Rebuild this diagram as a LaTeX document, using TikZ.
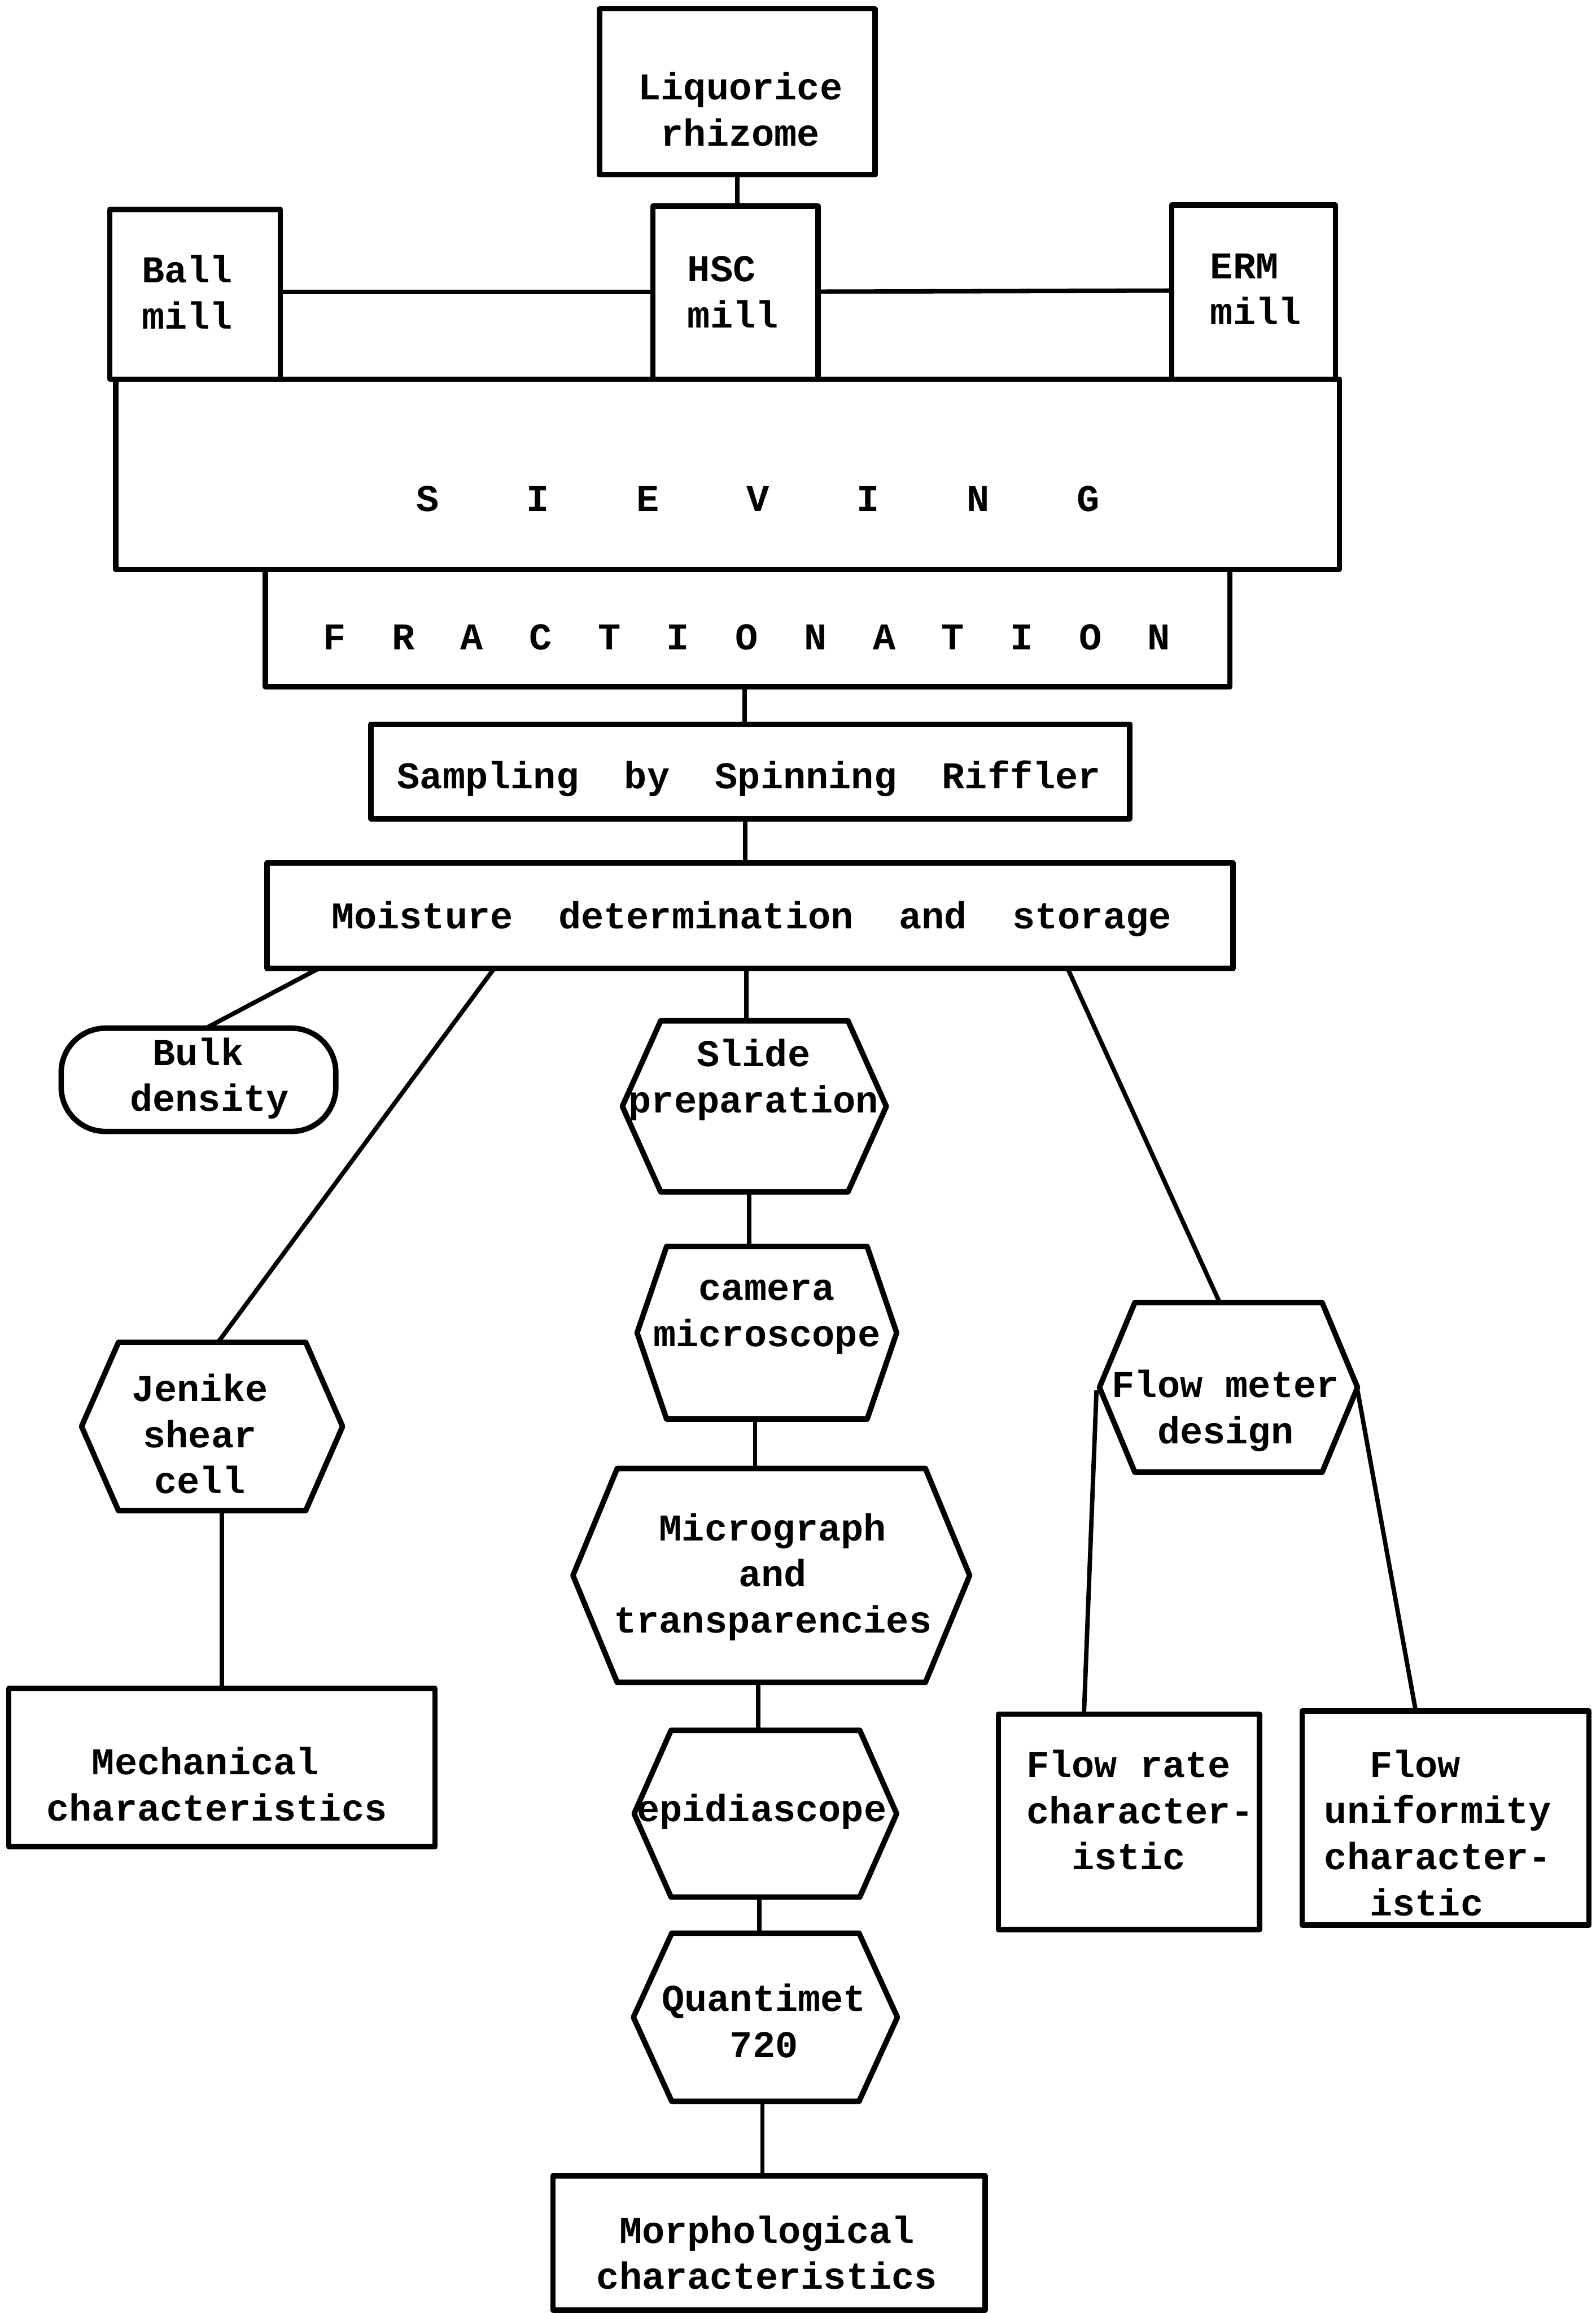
\documentclass[tikz,border=0pt]{standalone}
\usepackage{fontspec}
\setmainfont{Liberation Mono}
\usetikzlibrary{calc}
\tikzset{
  shapeline/.style={line width=2.1pt, line join=round},
  conn/.style={line width=1.7pt},
  boxst/.style={draw, shapeline, rectangle, inner sep=0pt, outer sep=0pt},
  hexst/.style={rectangle, inner sep=0pt, outer sep=0pt},
  txt/.style={font=\fontsize{14.6}{17.8}\selectfont\bfseries, align=center, inner sep=0pt}
}
\newcommand\rbox[5]{\node[boxst, minimum width={(#4-#2)*0.02cm}, minimum height={(#5-#3)*0.02cm}] (#1) at ({(#2+#4)/2},{(#3+#5)/2}) {};}
\newcommand\hexa[9]{%
  \node[hexst, minimum width={#4*0.02cm}, minimum height={#5*0.02cm}] (#1) at (#2,#3) {};
  \draw[shapeline] ($(#1.north west)+(#6,0)$) -- ($(#1.north east)+(-#6,0)$) -- (#1.east) -- ($(#1.south east)+(-#6,0)$) -- ($(#1.south west)+(#6,0)$) -- (#1.west) -- cycle;
  \node[txt] (#1-t) at (#7,#8) {#9};}
\newcommand\sv[1]{\makebox[1.494cm]{#1}}
\newcommand\fr[1]{\makebox[0.932cm]{#1}}
\begin{document}
\begin{tikzpicture}[x=0.02cm,y=-0.02cm]
\useasboundingbox (0,0) rectangle (1082,1568);
% top boxes
\rbox{liq}{406.5}{6}{593.3}{118.5}
\node[txt] (liq-t) at (502,74) {Liquorice\\rhizome};
\rbox{ball}{74.5}{142}{190}{257}
\node[txt, align=left] (ball-t) at (127,198) {Ball\\mill};
\rbox{hsc}{442.7}{139.7}{554.8}{257}
\node[txt, align=left] (hsc-t) at (497,198) {HSC\\mill};
\rbox{erm}{794.5}{139}{905.5}{257}
\node[txt, align=left] (erm-t) at (851.5,196) {ERM\\mill};
\rbox{siev}{78.4}{257}{908.2}{386}
\node[txt] (siev-t) at (514,338) {\sv{S}\sv{I}\sv{E}\sv{V}\sv{I}\sv{N}\sv{G}};
\rbox{frac}{180}{386}{834}{465.5}
\node[txt] (frac-t) at (506.4,432) {\fr{F}\fr{R}\fr{A}\fr{C}\fr{T}\fr{I}\fr{O}\fr{N}\fr{A}\fr{T}\fr{I}\fr{O}\fr{N}};
\rbox{samp}{251.5}{491}{766}{555}
\node[txt] (samp-t) at (508,528) {Sampling~~by~~Spinning~~Riffler};
\rbox{moist}{181}{585}{836}{656.6}
\node[txt] (moist-t) at (509.5,623) {Moisture~~determination~~and~~storage};
% bulk density
\node[draw, shapeline, rectangle, rounded corners=0.6cm, inner sep=0pt, outer sep=0pt,
  minimum width={186.2*0.02cm}, minimum height={70*0.02cm}] (bulk) at (134.6,732) {};
\node[txt, align=left] (bulk-t) at (142,731) {\phantom{B}Bulk\\density};
% hexagons
\hexa{slide}{511.5}{750}{179}{116}{26}{511}{732}{Slide\\preparation}
\hexa{cam}{520}{903.5}{176}{117}{20}{520}{893}{camera\\microscope}
\hexa{micro}{523}{1068}{269}{145}{30}{524}{1069}{Micrograph\\and\\transparencies}
\hexa{epi}{519}{1229.5}{178}{113}{25}{516.5}{1228}{epidiascope}
\hexa{quant}{519}{1367.5}{179}{114}{26}{518}{1370}{Quantimet\\720}
\hexa{jen}{143.8}{967}{177}{114}{25}{135.5}{972}{Jenike\\shear\\cell}
\hexa{flow}{833}{940.5}{175}{115}{24}{831}{956.5}{Flow meter\\design}
% bottom boxes
\rbox{morph}{375}{1475}{668}{1566}
\node[txt] (morph-t) at (520,1527) {Morphological\\characteristics};
\rbox{mech}{6}{1144.6}{295}{1251.8}
\node[txt, align=left] (mech-t) at (147,1209.5) {\phantom{ch}Mechanical\\characteristics};
\rbox{frate}{677}{1162}{854}{1308}
\node[txt, align=left] (frate-t) at (773,1227) {Flow rate\\character-\\\phantom{ch}istic};
\rbox{funi}{883}{1160}{1077.4}{1305}
\node[txt, align=left] (funi-t) at (975,1242.5) {\phantom{ch}Flow\\uniformity\\character-\\\phantom{ch}istic};
% connectors
\draw[conn] (liq.south) -- (liq.south |- hsc.north);
\draw[conn] ($(ball.north east)+(0,56)$) -- ($(hsc.north west)+(0,58.3)$);
\draw[conn] ($(hsc.north east)+(0,58)$) -- ($(erm.north west)+(0,58)$);
\draw[conn] ($(frac.south)+(-2,0)$) coordinate (f1) -- (f1 |- samp.north);
\draw[conn] ($(samp.south)+(-3.5,0)$) coordinate (s0) -- (s0 |- moist.north);
\draw[conn] ($(moist.south west)+(35,0)$) -- ($(bulk.north)+(5,0)$);
\draw[conn] ($(moist.south west)+(154,0)$) -- ($(jen.north)+(4,0)$);
\draw[conn] ($(slide.north)+(-5.5,0)$) coordinate (s1) -- (s1 |- moist.south);
\draw[conn] ($(slide.south)+(-3.5,0)$) coordinate (s2) -- (s2 |- cam.north);
\draw[conn] ($(cam.south)+(-8,0)$) coordinate (s3) -- (s3 |- micro.north);
\draw[conn] ($(micro.south)+(-9,0)$) coordinate (s4) -- (s4 |- epi.north);
\draw[conn] ($(epi.south)+(-4,0)$) coordinate (s5) -- (s5 |- quant.north);
\draw[conn] ($(quant.south)+(-2,0)$) coordinate (s6) -- (s6 |- morph.north);
\draw[conn] (mech.north) -- (mech.north |- jen.south);
\draw[conn] ($(moist.south west)+(543,0)$) -- ($(flow.north)+(-6,0)$);
\draw[conn] ($(flow.west)+(-2,2)$) -- ($(frate.north west)+(58,0)$);
\draw[conn] ($(flow.east)+(0,2)$) -- ($(funi.north west)+(77,0)$);
\end{tikzpicture}
\end{document}
